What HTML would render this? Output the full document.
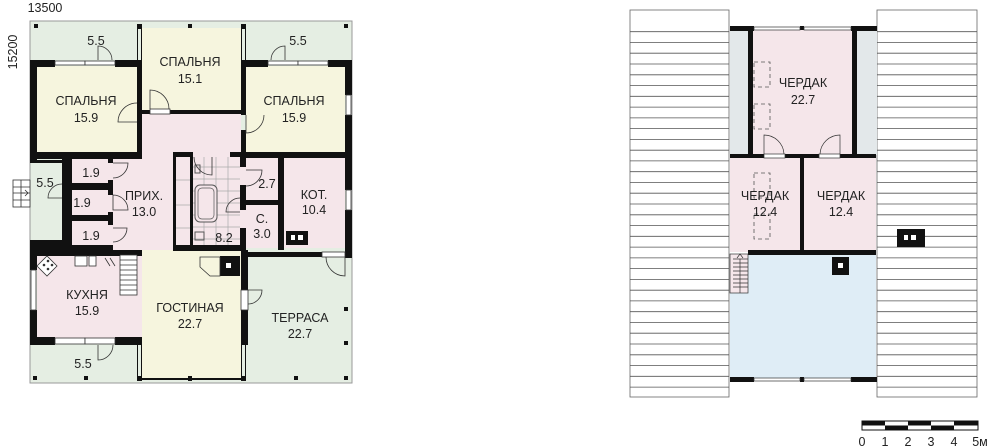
<!DOCTYPE html>
<html><head><meta charset="utf-8"><style>
html,body{margin:0;padding:0;background:#fff;}
svg{display:block;font-family:"Liberation Sans","DejaVu Sans",sans-serif;}
text{font-size:12.5px;fill:#222;text-anchor:middle;}
</style></head><body>
<svg width="1000" height="448" viewBox="0 0 1000 448" xmlns="http://www.w3.org/2000/svg">
<text x="45" y="12" font-size="11">13500</text>
<text x="0" y="0" font-size="11" transform="translate(17,52) rotate(-90)">15200</text>

<rect x="30" y="21" width="322" height="362" fill="#e5eee3" stroke="#999" stroke-width="1"/>
<rect x="142" y="28" width="99" height="85" fill="#f6f5de"/>
<rect x="37" y="66" width="100" height="86" fill="#f6f5de"/>
<rect x="246" y="66" width="99" height="86" fill="#f6f5de"/>
<rect x="142" y="113" width="99" height="45" fill="#f5e6ea"/>
<rect x="62" y="158" width="184" height="95" fill="#f5e6ea"/>
<rect x="246" y="158" width="99" height="90" fill="#f5e6ea"/>
<rect x="37" y="255" width="105" height="83" fill="#f5e6ea"/>
<rect x="142" y="250" width="99" height="128" fill="#f6f5de"/>
<g stroke="#aaa" stroke-width="0.7">
<path d="M193 167H240M193 179H240M193 191H240M193 203H240M193 215H240M193 227H240M193 239H240M204 157V245M216 157V245M228 157V245"/>
<path d="M175 180H190M175 205H190M175 228H190"/>
</g>
<rect x="195" y="185" width="22" height="37" rx="5" fill="#f5e6ea" stroke="#555"/>
<rect x="198" y="188" width="16" height="31" rx="4" fill="none" stroke="#555" stroke-width="0.7"/>
<rect x="195" y="165" width="5" height="8" fill="none" stroke="#555"/>
<rect x="195" y="232" width="9" height="8" fill="none" stroke="#555"/>

<g fill="#111">
<rect x="34" y="24" width="4" height="4"/><rect x="344" y="24" width="4" height="4"/>
<rect x="137" y="24" width="5" height="5"/><rect x="188" y="24" width="4" height="4"/><rect x="241" y="24" width="5" height="5"/>
<rect x="30" y="60" width="25" height="7"/><rect x="115" y="60" width="27" height="7"/>
<rect x="241" y="60" width="27" height="7"/><rect x="328" y="60" width="24" height="7"/>
<rect x="137" y="60" width="5" height="98"/><rect x="241" y="60" width="5" height="55"/>
<rect x="241" y="130" width="5" height="28"/>
<rect x="137" y="28" width="1" height="32"/><rect x="141" y="28" width="1" height="32"/>
<rect x="241" y="28" width="1" height="32"/><rect x="245" y="28" width="1" height="32"/>
<rect x="142" y="110" width="8" height="4"/><rect x="170" y="110" width="76" height="4"/>
<rect x="30" y="60" width="7" height="100"/><rect x="345" y="60" width="7" height="35"/><rect x="345" y="115" width="7" height="75"/><rect x="345" y="210" width="7" height="48"/>
<rect x="30" y="152" width="112" height="7"/><rect x="241" y="152" width="111" height="6"/>
<rect x="62" y="158" width="10" height="95"/>
<rect x="62" y="183" width="46" height="7"/><rect x="62" y="215" width="46" height="6"/>
<rect x="108" y="158" width="5" height="5"/><rect x="108" y="180" width="5" height="15"/><rect x="108" y="212" width="5" height="13"/><rect x="108" y="245" width="5" height="8"/>
<rect x="62" y="245" width="50" height="10"/>
<rect x="30" y="160" width="32" height="3"/><rect x="30" y="240" width="32" height="15"/>
<rect x="173" y="152" width="20" height="5"/><rect x="230" y="152" width="16" height="5"/>
<rect x="173" y="155" width="3" height="95"/><rect x="190" y="157" width="3" height="88"/>
<rect x="173" y="245" width="73" height="6"/>
<rect x="240" y="157" width="6" height="10"/><rect x="240" y="185" width="6" height="25"/><rect x="240" y="228" width="6" height="20"/>
<rect x="246" y="200" width="32" height="5"/><rect x="278" y="155" width="6" height="95"/>
<rect x="30" y="250" width="112" height="6"/><rect x="30" y="255" width="7" height="15"/><rect x="30" y="310" width="7" height="35"/>
<rect x="30" y="337" width="25" height="8"/><rect x="115" y="337" width="27" height="8"/>
<rect x="137" y="337" width="5" height="8"/>
<rect x="241" y="250" width="7" height="40"/><rect x="241" y="310" width="7" height="35"/>
<rect x="246" y="252" width="76" height="5"/><rect x="345" y="252" width="7" height="5"/>
<rect x="137" y="345" width="1" height="33"/><rect x="141" y="345" width="1" height="33"/>
<rect x="241" y="345" width="1" height="33"/><rect x="245" y="345" width="1" height="33"/>
<rect x="137" y="376" width="5" height="5"/><rect x="188" y="376" width="4" height="5"/><rect x="241" y="376" width="5" height="5"/>
<rect x="138" y="378" width="104" height="2"/>
<rect x="33" y="376" width="4" height="4"/><rect x="84" y="376" width="4" height="4"/><rect x="294" y="376" width="4" height="4"/><rect x="344" y="376" width="4" height="4"/>
<rect x="344" y="307" width="4" height="4"/><rect x="344" y="341" width="4" height="4"/>
<rect x="220" y="256" width="20" height="20"/>
<rect x="286" y="231" width="22" height="14"/>
</g>
<rect x="226" y="263" width="5" height="5" fill="#fff"/>
<rect x="291" y="235" width="4" height="5" fill="#fff"/><rect x="298" y="235" width="5" height="5" fill="#fff"/>
<path d="M200 257H220V276H210L200 267Z" fill="#f6f5de" stroke="#333" stroke-width="0.8"/>
<g fill="#fff" stroke="#333" stroke-width="0.8">
<rect x="55" y="61" width="30" height="4"/><rect x="85" y="61" width="30" height="4"/>
<rect x="268" y="61" width="30" height="4"/><rect x="298" y="61" width="30" height="4"/>
<rect x="346" y="95" width="5" height="20"/><rect x="346" y="190" width="5" height="20"/>
<rect x="31" y="270" width="5" height="40"/>
<rect x="55" y="338" width="30" height="6"/><rect x="85" y="338" width="30" height="6"/>
<rect x="322" y="252" width="23" height="5"/>
<rect x="241" y="290" width="7" height="20"/>
<rect x="150" y="109" width="20" height="5"/>
</g>
<g fill="none" stroke="#333" stroke-width="0.8">
<path d="M98 60V46A14 14 0 0 1 112 60"/><path d="M285 60V46A14 14 0 0 0 271 60"/>
<path d="M150 109V90A19 19 0 0 1 169 109"/>
<path d="M137 122H118A19 19 0 0 1 137 103"/><path d="M246 115V133A18 18 0 0 0 264 115"/>
<path d="M113 163H128A15 15 0 0 1 113 178"/><path d="M113 195V210H128A15 15 0 0 0 113 195"/>
<path d="M113 228H127A14 14 0 0 1 113 242"/><path d="M62 198H48A14 14 0 0 1 62 184"/>
<path d="M246 170H262A16 16 0 0 1 246 186"/><path d="M240 212H226A14 14 0 0 1 240 198"/>
<path d="M212 157V175A18 18 0 0 1 194 157"/>
<path d="M345 257V276A19 19 0 0 1 326 257"/>
<path d="M248 290H262A14 14 0 0 1 248 304"/>
<path d="M98 345V360A15 15 0 0 0 113 345"/>
</g>
<g fill="#fff" stroke="#333" stroke-width="0.8">
<rect x="13" y="180" width="17" height="27"/><path d="M13 187H30M13 193H30M13 200H30M21 180V207"/><path d="M21 193H28M25 190L28 193L25 196"/>
</g>
<g stroke="#333" stroke-width="0.8" fill="#fff">
<path d="M37 266L47 256L57 266L47 276Z"/>
<rect x="75" y="256" width="12" height="10"/><rect x="89" y="256" width="7" height="10"/>
<rect x="120" y="255" width="17" height="40"/>
<path d="M120 260H137M120 265H137M120 270H137M120 275H137M120 280H137M120 285H137M120 290H137" fill="none"/>
<path d="M105 258L110 266M110 258L115 266" fill="none"/>
</g>
<g fill="#333"><circle cx="44" cy="265" r="1.3"/><circle cx="48" cy="261" r="1.3"/><circle cx="48" cy="269" r="1.3"/><circle cx="52" cy="265" r="1.3"/></g>
<text x="96" y="45">5.5</text><text x="298" y="45">5.5</text>
<text x="190" y="66">СПАЛЬНЯ</text><text x="190" y="83">15.1</text>
<text x="86" y="105">СПАЛЬНЯ</text><text x="86" y="122">15.9</text>
<text x="294" y="105">СПАЛЬНЯ</text><text x="294" y="122">15.9</text>
<text x="45" y="187">5.5</text>
<text x="91" y="177">1.9</text><text x="82" y="207">1.9</text><text x="91" y="240">1.9</text>
<text x="144" y="200">ПРИХ.</text><text x="144" y="216">13.0</text>
<text x="267" y="188">2.7</text>
<text x="262" y="223">С.</text><text x="262" y="238">3.0</text>
<text x="314" y="199">КОТ.</text><text x="314" y="214">10.4</text>
<text x="224" y="242">8.2</text>
<text x="87" y="299">КУХНЯ</text><text x="87" y="315">15.9</text>
<text x="190" y="312">ГОСТИНАЯ</text><text x="190" y="328">22.7</text>
<text x="300" y="322">ТЕРРАСА</text><text x="300" y="338">22.7</text>
<text x="83" y="368">5.5</text>

<!-- RIGHT PLAN -->
<g fill="#fff" stroke="#666" stroke-width="0.8">
<rect x="630" y="10" width="99" height="387"/><rect x="877" y="10" width="100" height="387"/>
</g>
<g stroke="#555" stroke-width="0.8">
<path d="M630 31.7H729M630 42.5H729M630 53.2H729M630 64H729M630 74.8H729M630 85.6H729M630 96.3H729M630 107.1H729M630 117.9H729M630 128.6H729M630 139.4H729M630 150.2H729M630 160.9H729M630 171.7H729M630 182.5H729M630 193.2H729M630 204H729M630 214.8H729M630 225.6H729M630 236.3H729M630 247.1H729M630 257.9H729M630 268.6H729M630 279.4H729M630 290.2H729M630 300.9H729M630 311.7H729M630 322.5H729M630 333.2H729M630 344H729M630 354.8H729M630 365.6H729M630 376.3H729M630 387.1H729"/>
<path d="M877 31.7H977M877 42.5H977M877 53.2H977M877 64H977M877 74.8H977M877 85.6H977M877 96.3H977M877 107.1H977M877 117.9H977M877 128.6H977M877 139.4H977M877 150.2H977M877 160.9H977M877 171.7H977M877 182.5H977M877 193.2H977M877 204H977M877 214.8H977M877 225.6H977M877 236.3H977M877 247.1H977M877 257.9H977M877 268.6H977M877 279.4H977M877 290.2H977M877 300.9H977M877 311.7H977M877 322.5H977M877 333.2H977M877 344H977M877 354.8H977M877 365.6H977M877 376.3H977M877 387.1H977"/>
</g>
<rect x="730" y="30" width="18" height="125" fill="#e3e8ea"/>
<rect x="856" y="30" width="21" height="125" fill="#e3e8ea"/>
<rect x="752" y="30" width="100" height="125" fill="#f5e6ea"/>
<rect x="730" y="158" width="146" height="94" fill="#f5e6ea"/>
<rect x="730" y="255" width="146" height="123" fill="#dfedf6"/>
<g fill="#111">
<rect x="730" y="26" width="24" height="5"/><rect x="851" y="26" width="26" height="5"/><rect x="800" y="26" width="4" height="4"/>
<rect x="748" y="26" width="5" height="132"/><rect x="852" y="26" width="5" height="132"/>
<rect x="730" y="154" width="146" height="4"/>
<rect x="800" y="154" width="4" height="98"/>
<rect x="748" y="250" width="128" height="5"/>
<rect x="730" y="377" width="24" height="5"/><rect x="851" y="377" width="26" height="5"/><rect x="800" y="377" width="4" height="5"/>
<rect x="832" y="257" width="17" height="18"/>
<rect x="897" y="229" width="28" height="18"/>
</g>
<rect x="838" y="263" width="5" height="5" fill="#fff"/>
<rect x="904" y="235" width="4" height="5" fill="#fff"/><rect x="911" y="235" width="5" height="5" fill="#fff"/>
<g fill="#fff" stroke="#333" stroke-width="0.7">
<rect x="754" y="27" width="46" height="3"/><rect x="804" y="27" width="47" height="3"/>
<rect x="754" y="378" width="46" height="3"/><rect x="804" y="378" width="47" height="3"/>
<rect x="764" y="154" width="21" height="4"/><rect x="819" y="154" width="21" height="4"/>
<rect x="730" y="254" width="18" height="39" fill="#f5e6ea"/>
</g>
<g stroke="#333" stroke-width="0.7" fill="none">
<path d="M733 259H748M733 263H748M733 267H748M733 271H748M733 275H748M733 279H748M733 283H748M733 287H748"/>
<path d="M740 259V293M737 258L740 254L743 258"/>
<path d="M764 154V135A20 20 0 0 1 784 154"/><path d="M840 154V135A20 20 0 0 0 820 154"/>
</g>
<g fill="none" stroke="#555" stroke-width="0.8" stroke-dasharray="4,3">
<rect x="754" y="62" width="16" height="25"/><rect x="754" y="104" width="16" height="25"/>
<rect x="754" y="173" width="16" height="25"/><rect x="754" y="214" width="16" height="25"/>
</g>
<text x="803" y="87">ЧЕРДАК</text><text x="803" y="104">22.7</text>
<text x="765" y="200">ЧЕРДАК</text><text x="765" y="216">12.4</text>
<text x="841" y="200">ЧЕРДАК</text><text x="841" y="216">12.4</text>

<rect x="862" y="421" width="116" height="9" fill="#fff" stroke="#111" stroke-width="1"/>
<g fill="#111">
<rect x="862" y="421" width="23" height="4.5"/><rect x="885" y="425.5" width="23" height="4.5"/>
<rect x="908" y="421" width="23" height="4.5"/><rect x="931" y="425.5" width="23" height="4.5"/>
<rect x="954" y="421" width="24" height="4.5"/>
</g>
<g font-size="12">
<text x="862" y="446">0</text><text x="885" y="446">1</text><text x="908" y="446">2</text><text x="931" y="446">3</text><text x="954" y="446">4</text><text x="980" y="446">5м</text>
</g>
</svg>
</body></html>
